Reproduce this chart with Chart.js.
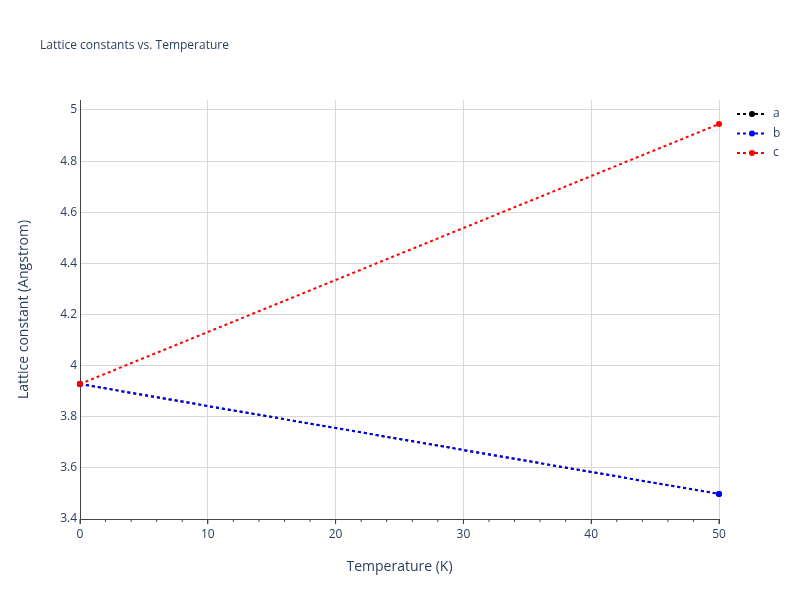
<!DOCTYPE html>
<html><head><meta charset="utf-8">
<script src="https://cdn.jsdelivr.net/npm/chart.js@4"></script>
<style>html,body{margin:0;padding:0;background:#fff}#w{width:800px;height:600px}</style>
</head><body><div id="w"><canvas id="c"></canvas></div>
<script>
const temps = [0, 50];
const aVals = [3.928, 3.498];
const bVals = [3.928, 3.498];
const cVals = [3.928, 4.945];
const seriesNames = ['a', 'b', 'c'];
const seriesColors = ['#000000', '#0000ff', '#ff0000'];
const yTicks = [3.4, 3.6, 3.8, 4, 4.2, 4.4, 4.6, 4.8, 5];
const txt = '#2a3f5f';
const all = [aVals, bVals, cVals];
const ds = all.map((v, i) => ({
  label: seriesNames[i], order: 3 - i,
  data: temps.map((t, j) => ({x: t, y: v[j]})),
  borderColor: seriesColors[i], backgroundColor: seriesColors[i],
  borderDash: [3, 3], borderWidth: 2, pointRadius: 3, pointBorderWidth: 0, pointHoverRadius: 3, clip: false
}));
const extra = {
  id: 'extra',
  afterDraw(ch) {
    const c = ch.ctx, xs = ch.scales.x, a = ch.chartArea;
    c.save();
    c.fillStyle = txt; c.font = '12px "Open Sans", sans-serif'; c.textBaseline = 'middle';
    c.fillText('Lattice constants vs. Temperature', 40, 46);
    c.strokeStyle = '#444'; c.lineWidth = 1;
    for (let v = 0; v <= 50; v += 2) { const p = xs.getPixelForValue(v); c.beginPath(); c.moveTo(p, a.bottom); c.lineTo(p, a.bottom + (v % 10 === 0 ? 5 : 3)); c.stroke(); }
    seriesNames.forEach((n, i) => {
      const y = 114 + i * 19.5;
      c.strokeStyle = seriesColors[i]; c.fillStyle = seriesColors[i]; c.lineWidth = 2; c.setLineDash([3, 3]);
      c.beginPath(); c.moveTo(737, y); c.lineTo(767, y); c.stroke(); c.setLineDash([]);
      c.beginPath(); c.arc(752, y, 3, 0, Math.PI * 2); c.fill();
      c.fillStyle = txt; c.fillText(n, 773, y);
    });
    c.restore();
  }
};
new Chart(document.getElementById('c'), {
  type: 'line',
  data: {datasets: ds},
  plugins: [extra],
  options: {
    responsive: true, maintainAspectRatio: false, animation: false,
    layout: {padding: {top: 100, right: 81, left: 12, bottom: 25}},
    plugins: {legend: {display: false}, tooltip: {enabled: false}},
    scales: {
      x: {type: 'linear', min: 0, max: 50,
        afterFit: s => { s.height = 56; },
        ticks: {stepSize: 10, color: txt, font: {size: 12, family: '"Open Sans", sans-serif'}, maxRotation: 0},
        grid: {color: '#d8d8d8', tickLength: 5, tickColor: '#444'},
        border: {color: '#444', width: 1},
        title: {display: true, text: 'Temperature (K)', color: txt, font: {size: 14, family: '"Open Sans", sans-serif'}, padding: {top: 0, bottom: 0}}},
      y: {min: 3.4, max: 5.039,
        afterFit: s => { s.width = 68; },
        afterBuildTicks: s => { s.ticks = yTicks.map(v => ({value: v})); },
        ticks: {color: txt, font: {size: 12, family: '"Open Sans", sans-serif'}, callback: v => String(Math.round(v * 10) / 10)},
        grid: {color: '#d8d8d8', drawTicks: false},
        border: {color: '#444', width: 1},
        title: {display: true, text: 'Lattice constant (Angstrom)', color: txt, font: {size: 14, family: '"Open Sans", sans-serif'}}}
    }
  }
});
</script></body></html>
